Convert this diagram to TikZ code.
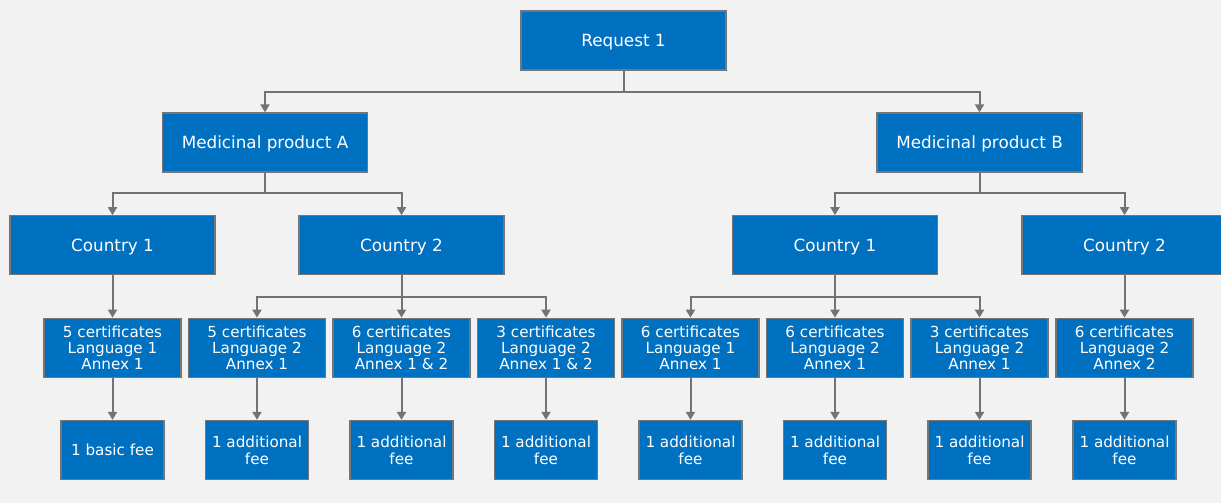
\documentclass[tikz,border=0pt]{standalone}
\usepackage{fontspec}
\setmainfont{DejaVu Sans}
\usetikzlibrary{arrows.meta}
\definecolor{bg}{HTML}{F2F2F2}
\definecolor{boxblue}{HTML}{0070C0}
\definecolor{edgegray}{HTML}{767676}
\definecolor{linegray}{HTML}{737373}
\tikzset{
  basebox/.style={draw=edgegray, line width=1.3pt, fill=boxblue, text=white, align=center, inner sep=0pt},
  bigbox/.style={basebox, minimum width=205pt, minimum height=59pt, text depth=0pt,
    font=\fontsize{16.8pt}{19pt}\selectfont},
  midbox/.style={basebox, minimum width=137pt, minimum height=59pt, font=\fontsize{15.2pt}{16.4pt}\selectfont},
  feebox/.style={basebox, minimum width=103pt, minimum height=59pt, font=\fontsize{15.2pt}{16.8pt}\selectfont},
  conn/.style={draw=linegray, line width=2pt},
  arr/.style={conn, -{Triangle[width=9pt,length=8pt]}}
}
\begin{document}
\begin{tikzpicture}[x=1pt,y=-1pt]
\fill[bg] (0,0) rectangle (1221,503);
\clip (0,0) rectangle (1221,503);
\useasboundingbox (0,0) rectangle (1221,503);
% level 1
\node[bigbox] (req) at (623.5,40.5) {Request 1};
% level 2
\node[bigbox] (pA) at (265,142.5) {Medicinal product A};
\node[bigbox] (pB) at (979.5,142.5) {Medicinal product B};
% level 3
\node[bigbox] (cA1) at (112.5,245.3) {Country 1};
\node[bigbox] (cA2) at (401.5,245.3) {Country 2};
\node[bigbox] (cB1) at (835,245.3) {Country 1};
\node[bigbox] (cB2) at (1124.5,245.3) {Country 2};
% level 4
\node[midbox] (m1) at (112.5,347.8) {5 certificates\\Language 1\\Annex 1};
\node[midbox] (m2) at (257,347.8) {5 certificates\\Language 2\\Annex 1};
\node[midbox] (m3) at (401.5,347.8) {6 certificates\\Language 2\\Annex 1 \& 2};
\node[midbox] (m4) at (546,347.8) {3 certificates\\Language 2\\Annex 1 \& 2};
\node[midbox] (m5) at (690.5,347.8) {6 certificates\\Language 1\\Annex 1};
\node[midbox] (m6) at (835,347.8) {6 certificates\\Language 2\\Annex 1};
\node[midbox] (m7) at (979.5,347.8) {3 certificates\\Language 2\\Annex 1};
\node[midbox] (m8) at (1124.5,347.8) {6 certificates\\Language 2\\Annex 2};
% level 5
\node[feebox] (f1) at (112.5,450) {1 basic fee};
\node[feebox] (f2) at (257,450) {1 additional\\fee};
\node[feebox] (f3) at (401.5,450) {1 additional\\fee};
\node[feebox] (f4) at (546,450) {1 additional\\fee};
\node[feebox] (f5) at (690.5,450) {1 additional\\fee};
\node[feebox] (f6) at (835,450) {1 additional\\fee};
\node[feebox] (f7) at (979.5,450) {1 additional\\fee};
\node[feebox] (f8) at (1124.5,450) {1 additional\\fee};
% junctions
\coordinate (j0) at (623.5,92);
\coordinate (jA) at (265,193);
\coordinate (jB) at (979.5,193);
\coordinate (jA2) at (401.5,297);
\coordinate (jB1) at (835,297);
% connectors
\draw[conn] (req) -- (j0);
\draw[arr] (j0) -| (pA);
\draw[arr] (j0) -| (pB);
\draw[conn] (pA) -- (jA);
\draw[arr] (jA) -| (cA1);
\draw[arr] (jA) -| (cA2);
\draw[conn] (pB) -- (jB);
\draw[arr] (jB) -| (cB1);
\draw[arr] (jB) -| (cB2);
\draw[arr] (cA1) -- (m1);
\draw[conn] (cA2) -- (jA2);
\draw[arr] (jA2) -| (m2);
\draw[arr] (jA2) -- (m3);
\draw[arr] (jA2) -| (m4);
\draw[conn] (cB1) -- (jB1);
\draw[arr] (jB1) -| (m5);
\draw[arr] (jB1) -- (m6);
\draw[arr] (jB1) -| (m7);
\draw[arr] (cB2) -- (m8);
\draw[arr] (m1) -- (f1);
\draw[arr] (m2) -- (f2);
\draw[arr] (m3) -- (f3);
\draw[arr] (m4) -- (f4);
\draw[arr] (m5) -- (f5);
\draw[arr] (m6) -- (f6);
\draw[arr] (m7) -- (f7);
\draw[arr] (m8) -- (f8);
\end{tikzpicture}
\end{document}
